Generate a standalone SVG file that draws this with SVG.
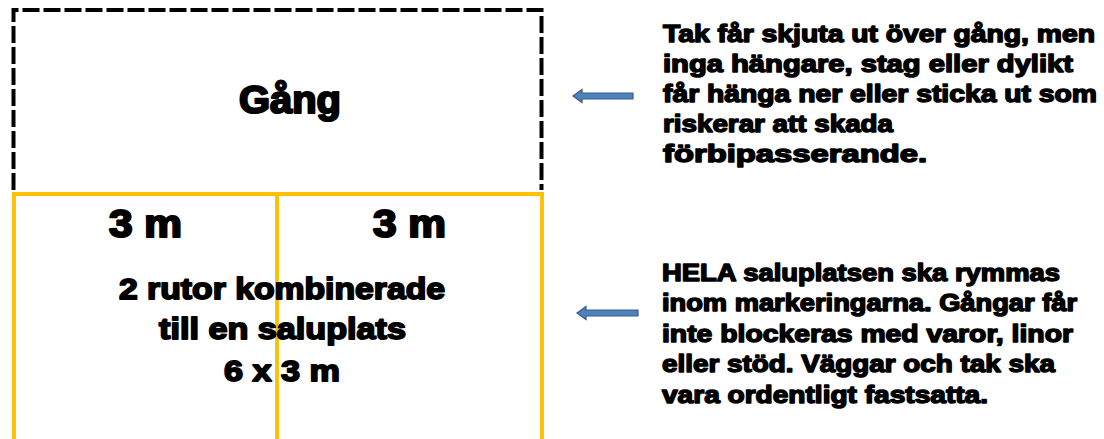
<svg xmlns="http://www.w3.org/2000/svg" width="1104" height="439" viewBox="0 0 1104 439">
<style>
.t{font-family:"Liberation Sans",Arial,sans-serif;font-weight:bold;fill:#000;stroke:#000;stroke-linejoin:round}
.big{font-size:38px;stroke-width:2.2}
.mid{font-size:30px;stroke-width:1.8}
.note{font-size:24.5px;stroke-width:1.5}
.dash{fill:none;stroke:#000;stroke-width:4;stroke-dasharray:17 4}
.or{fill:none;stroke:#FFC000;stroke-width:3.8}
.arr{fill:#4F81BD;stroke:#385D8A;stroke-width:1.2}
</style>
<rect width="1104" height="439" fill="#fff"/>
<g id="gang">
<path class="dash" d="M13.5,190 V10 H541.5 V190"/>
<text class="t big" x="239" y="113" textLength="102" lengthAdjust="spacingAndGlyphs">Gång</text>
</g>
<g id="saluplats">
<path class="or" d="M12,194 H544 M14,192 V439 M277,194 V439 M542,192 V439"/>
<text class="t big" x="109" y="237" textLength="73" lengthAdjust="spacingAndGlyphs">3 m</text>
<text class="t big" x="373" y="237" textLength="73" lengthAdjust="spacingAndGlyphs">3 m</text>
<text class="t mid" x="119" y="299" textLength="326" lengthAdjust="spacingAndGlyphs">2 rutor kombinerade</text>
<text class="t mid" x="159" y="339" textLength="247" lengthAdjust="spacingAndGlyphs">till en saluplats</text>
<text class="t mid" x="224" y="381" textLength="116" lengthAdjust="spacingAndGlyphs">6 x 3 m</text>
</g>
<g id="note1">
<text class="t note" x="663" y="42" textLength="432" lengthAdjust="spacingAndGlyphs">Tak får skjuta ut över gång, men</text>
<text class="t note" x="663" y="72" textLength="410" lengthAdjust="spacingAndGlyphs">inga hängare, stag eller dylikt</text>
<text class="t note" x="663" y="102" textLength="434" lengthAdjust="spacingAndGlyphs">får hänga ner eller sticka ut som</text>
<text class="t note" x="663" y="132" textLength="230" lengthAdjust="spacingAndGlyphs">riskerar att skada</text>
<text class="t note" x="663" y="162" textLength="264" lengthAdjust="spacingAndGlyphs">förbipasserande.</text>
</g>
<g id="note2">
<text class="t note" x="662" y="281" textLength="398" lengthAdjust="spacingAndGlyphs">HELA saluplatsen ska rymmas</text>
<text class="t note" x="662" y="311" textLength="415" lengthAdjust="spacingAndGlyphs">inom markeringarna. Gångar får</text>
<text class="t note" x="662" y="342" textLength="411" lengthAdjust="spacingAndGlyphs">inte blockeras med varor, linor</text>
<text class="t note" x="662" y="372" textLength="393" lengthAdjust="spacingAndGlyphs">eller stöd. Väggar och tak ska</text>
<text class="t note" x="662" y="403" textLength="326" lengthAdjust="spacingAndGlyphs">vara ordentligt fastsatta.</text>
</g>
<g id="connectors">
<path class="arr" d="M573,96 L582,89.5 V93 H633 V99 H582 V102.5 Z"/>
<path class="arr" d="M577,313 L586,306.5 V310 H638 V316 H586 V319.5 Z"/>
</g>
</svg>
